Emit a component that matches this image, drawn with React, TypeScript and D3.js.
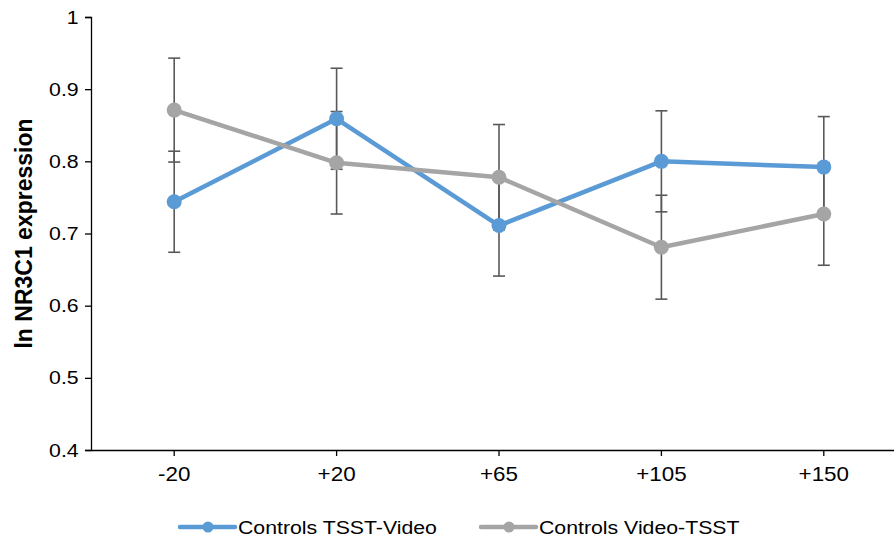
import React, { useRef, useEffect } from 'react';
import * as d3 from 'd3';

const categories = ['-20', '+20', '+65', '+105', '+150'];
const seriesNames = ['Controls TSST-Video', 'Controls Video-TSST'];
const tsstVideo = [0.744, 0.859, 0.711, 0.8, 0.792];
const tsstVideoErr = [0.07, 0.07, 0.07, 0.07, 0.07];
const videoTsst = [0.871, 0.798, 0.778, 0.681, 0.727];
const videoTsstErr = [0.072, 0.071, 0.073, 0.072, 0.071];
const yTicks = [0.4, 0.5, 0.6, 0.7, 0.8, 0.9, 1];

const colors = ['#5B9BD5', '#A5A5A5'];
const width = 894;
const height = 540;
const FONT = '"Liberation Sans", Arial, sans-serif';
// the labels in the original look a bit wide
const STRETCH = 'scale(1.12,1)';

const App = () => {
  const ref = useRef(null);

  useEffect(() => {
    const svg = d3.select(ref.current);
    svg.selectAll('*').remove();

    const left = 91;
    const top = 17;
    const bottom = 450;

    const x = d3
      .scaleBand()
      .domain(categories)
      .range([93, 905]);

    const y = d3.scaleLinear().domain([0.4, 1]).range([bottom, top]);

    // y axis
    const yAxis = svg
      .append('g')
      .attr('transform', `translate(${left},0)`)
      .call(
        d3
          .axisLeft(y)
          .tickValues(yTicks)
          .tickSize(6)
          .tickPadding(5)
          .tickFormat(d => (d === 1 ? '1' : d3.format('.1f')(d)))
      );
    yAxis.select('.domain').attr('stroke', '#000').attr('stroke-width', 1.3);
    yAxis.selectAll('line').attr('stroke', '#000').attr('stroke-width', 1.3);
    yAxis
      .selectAll('text')
      .attr('transform', STRETCH)
      .style('font-family', FONT)
      .style('font-size', '19px')
      .attr('fill', '#000');

    // x axis
    const xAxis = svg
      .append('g')
      .attr('transform', `translate(0,${bottom})`)
      .call(d3.axisBottom(x).tickSize(6).tickPadding(11).tickSizeOuter(0));
    xAxis.select('.domain').attr('d', `M${left},0.5H${width}`).attr('stroke', '#000').attr('stroke-width', 1.3);
    xAxis.selectAll('line').attr('stroke', '#000').attr('stroke-width', 1.3);
    xAxis
      .selectAll('text')
      .attr('transform', STRETCH)
      .style('font-family', FONT)
      .style('font-size', '20px')
      .attr('fill', '#000');

    // y label
    svg
      .append('text')
      .attr('transform', `translate(32,${(top + bottom) / 2}) rotate(-90)`)
      .attr('text-anchor', 'middle')
      .style('font-family', FONT)
      .style('font-size', '23px')
      .style('font-weight', 'bold')
      .text('ln NR3C1 expression');

    const cx = c => x(c) + x.bandwidth() / 2;
    const allSeries = [
      { name: seriesNames[0], values: tsstVideo, errs: tsstVideoErr, color: colors[0] },
      { name: seriesNames[1], values: videoTsst, errs: videoTsstErr, color: colors[1] },
    ];

    // error bars
    const errG = svg.append('g');
    allSeries.forEach(s => {
      s.values.forEach((v, i) => {
        const xc = cx(categories[i]);
        const y0 = y(v - s.errs[i]);
        const y1 = y(v + s.errs[i]);
        errG.append('line').attr('x1', xc).attr('x2', xc).attr('y1', y0).attr('y2', y1);
        errG.append('line').attr('x1', xc - 6).attr('x2', xc + 6).attr('y1', y0).attr('y2', y0);
        errG.append('line').attr('x1', xc - 6).attr('x2', xc + 6).attr('y1', y1).attr('y2', y1);
      });
    });
    errG.selectAll('line').attr('stroke', '#595959').attr('stroke-width', 1.6);

    const line = d3
      .line()
      .x((d, i) => cx(categories[i]))
      .y(d => y(d));

    allSeries.forEach(s => {
      svg
        .append('path')
        .datum(s.values)
        .attr('d', line)
        .attr('fill', 'none')
        .attr('stroke', s.color)
        .attr('stroke-width', 4.5)
        .attr('stroke-linejoin', 'round');
      svg
        .append('g')
        .selectAll('circle')
        .data(s.values)
        .enter()
        .append('circle')
        .attr('cx', (d, i) => cx(categories[i]))
        .attr('cy', d => y(d))
        .attr('r', 7.5)
        .attr('fill', s.color);
    });

    // legend
    const legendY = 527;
    const legendX = [180, 481];
    allSeries.forEach((s, i) => {
      const g = svg.append('g').attr('transform', `translate(${legendX[i]},${legendY})`);
      g.append('line')
        .attr('x1', 0)
        .attr('x2', 55)
        .attr('stroke', s.color)
        .attr('stroke-width', 4.5)
        .attr('stroke-linecap', 'round');
      g.append('circle').attr('cx', 28).attr('r', 5.5).attr('fill', s.color);
      g.append('text')
        .attr('transform', `translate(58,0) ${STRETCH}`)
        .attr('dy', '0.35em')
        .style('font-family', FONT)
        .style('font-size', '19px')
        .text(s.name);
    });
  }, []);

  return (
    <svg
      ref={ref}
      width={width}
      height={height}
      style={{ position: 'absolute', left: 0, top: 0, background: '#fff' }}
    />
  );
};

export default App;
